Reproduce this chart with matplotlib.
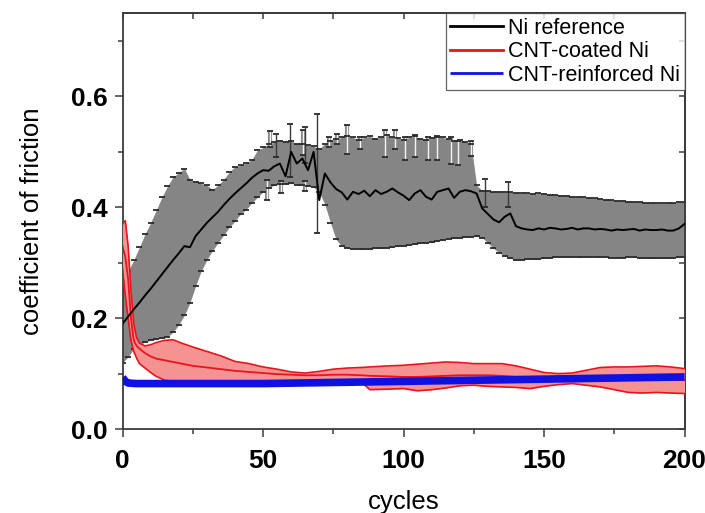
#!/usr/bin/env python3
"""Coefficient of friction vs. sliding cycles for Ni, CNT-coated Ni and CNT-reinforced Ni.

Run:
  python plot.py

Output:
  out.png
"""

from __future__ import annotations

import numpy as np
import matplotlib

matplotlib.use("Agg")
import matplotlib.pyplot as plt
from matplotlib.ticker import MultipleLocator


plt.rcParams["font.family"] = ["Liberation Sans", "DejaVu Sans"]

# ---- Ni reference: mean with error band, sampled every 2 cycles -------------
NI_CYCLES = np.arange(0, 201, 2)
NI_MEAN = [
    0.190, 0.203, 0.216, 0.228, 0.241, 0.253, 0.266, 0.279, 0.292, 0.305,
    0.317, 0.330, 0.328, 0.348, 0.360, 0.372, 0.382, 0.392, 0.404, 0.415,
    0.425, 0.434, 0.443, 0.453, 0.461, 0.467, 0.466, 0.474, 0.479, 0.456,
    0.500, 0.479, 0.488, 0.467, 0.500, 0.413, 0.461, 0.445, 0.433, 0.427,
    0.414, 0.428, 0.424, 0.430, 0.420, 0.431, 0.424, 0.428, 0.434, 0.427,
    0.421, 0.413, 0.425, 0.431, 0.419, 0.414, 0.428, 0.431, 0.434, 0.417,
    0.428, 0.431, 0.429, 0.425, 0.398, 0.388, 0.378, 0.373, 0.383, 0.389,
    0.366, 0.362, 0.360, 0.359, 0.362, 0.360, 0.363, 0.362, 0.360, 0.361,
    0.363, 0.360, 0.362, 0.362, 0.360, 0.361, 0.360, 0.358, 0.360, 0.359,
    0.360, 0.361, 0.358, 0.360, 0.359, 0.359, 0.360, 0.358, 0.358, 0.362,
    0.370,
]
NI_HI = [
    0.270, 0.285, 0.305, 0.328, 0.352, 0.372, 0.395, 0.418, 0.438, 0.455,
    0.462, 0.470, 0.450, 0.446, 0.443, 0.440, 0.432, 0.440, 0.450, 0.464,
    0.473, 0.476, 0.480, 0.486, 0.503, 0.508, 0.514, 0.518, 0.520, 0.518,
    0.520, 0.515, 0.515, 0.512, 0.510, 0.505, 0.515, 0.520, 0.524, 0.526,
    0.528, 0.526, 0.522, 0.526, 0.528, 0.524, 0.527, 0.530, 0.527, 0.525,
    0.522, 0.526, 0.528, 0.524, 0.522, 0.525, 0.528, 0.526, 0.523, 0.520,
    0.522, 0.518, 0.515, 0.440, 0.430, 0.430, 0.428, 0.428, 0.427, 0.428,
    0.426, 0.425, 0.426, 0.424, 0.425, 0.424, 0.423, 0.422, 0.421, 0.420,
    0.419, 0.418, 0.418, 0.417, 0.416, 0.415, 0.414, 0.413, 0.412, 0.411,
    0.410, 0.410, 0.409, 0.408, 0.408, 0.408, 0.407, 0.408, 0.408, 0.409,
    0.410,
]
NI_LO = [
    0.120, 0.130, 0.145, 0.152, 0.157, 0.160, 0.162, 0.164, 0.166, 0.175,
    0.188, 0.205, 0.228, 0.258, 0.285, 0.305, 0.322, 0.336, 0.350, 0.364,
    0.375, 0.388, 0.396, 0.408, 0.418, 0.428, 0.435, 0.440, 0.442, 0.442,
    0.443, 0.441, 0.440, 0.438, 0.436, 0.428, 0.405, 0.372, 0.342, 0.330,
    0.326, 0.325, 0.324, 0.324, 0.325, 0.326, 0.326, 0.327, 0.328, 0.330,
    0.331, 0.332, 0.333, 0.335, 0.336, 0.337, 0.339, 0.341, 0.343, 0.344,
    0.345, 0.346, 0.347, 0.348, 0.345, 0.336, 0.326, 0.318, 0.312, 0.308,
    0.305, 0.305, 0.306, 0.307, 0.307, 0.308, 0.309, 0.310, 0.310, 0.311,
    0.311, 0.310, 0.310, 0.311, 0.311, 0.310, 0.310, 0.309, 0.309, 0.309,
    0.310, 0.310, 0.309, 0.308, 0.308, 0.308, 0.308, 0.309, 0.309, 0.310,
    0.311,
]

# Individual Ni error bars that stand out of the band (dark) ...
NI_BAR_CYCLES = [54.5, 59.6, 64.8, 69.2, 129.0, 137.0]
NI_BAR_LO = [0.490, 0.455, 0.480, 0.353, 0.400, 0.400]
NI_BAR_HI = [0.533, 0.551, 0.545, 0.569, 0.452, 0.446]

# ... and the light ones drawn over the band
NI_WBAR_CYCLES = [51.3, 52.5, 56.5, 64.3, 65.0, 73.3, 76.3, 79.8, 84.5, 93.4,
                  97.0, 100.5, 104.0, 108.8, 111.8, 117.0, 119.4, 124.0]
NI_WBAR_LO = [0.413, 0.508, 0.425, 0.495, 0.430, 0.509, 0.515, 0.497, 0.505, 0.491,
              0.505, 0.485, 0.490, 0.485, 0.485, 0.479, 0.476, 0.492]
NI_WBAR_HI = [0.449, 0.537, 0.447, 0.539, 0.447, 0.527, 0.533, 0.548, 0.527, 0.539,
              0.539, 0.527, 0.530, 0.527, 0.527, 0.527, 0.520, 0.520]

# ---- CNT-coated Ni ------------------------------------------------------------
COATED_CYCLES = [0, 1, 2, 3, 4, 5, 6, 8, 10, 12, 15, 18, 21, 25, 30, 35, 40, 45,
                 50, 55, 60, 65, 70, 75, 80, 85, 88, 95, 100, 105, 110, 115, 120,
                 125, 130, 135, 140, 145, 150, 155, 160, 165, 170, 175, 180, 185,
                 190, 195, 200]
COATED_MEAN = [0.330, 0.310, 0.270, 0.200, 0.160, 0.150, 0.145, 0.137, 0.131, 0.127,
               0.124, 0.121, 0.118, 0.114, 0.111, 0.108, 0.105, 0.103, 0.101, 0.099,
               0.098, 0.097, 0.097, 0.098, 0.098, 0.097, 0.096, 0.095, 0.094, 0.094,
               0.095, 0.096, 0.097, 0.097, 0.097, 0.096, 0.094, 0.092, 0.090, 0.089,
               0.090, 0.092, 0.093, 0.092, 0.091, 0.090, 0.090, 0.089, 0.088]
COATED_HI = [0.370, 0.376, 0.330, 0.250, 0.190, 0.165, 0.155, 0.150, 0.152, 0.156,
             0.160, 0.161, 0.155, 0.148, 0.140, 0.132, 0.122, 0.118, 0.112, 0.108,
             0.103, 0.101, 0.104, 0.108, 0.110, 0.111, 0.112, 0.114, 0.115, 0.117,
             0.119, 0.121, 0.120, 0.118, 0.118, 0.118, 0.114, 0.108, 0.102, 0.100,
             0.101, 0.106, 0.111, 0.112, 0.112, 0.113, 0.114, 0.112, 0.109]
COATED_LO = [0.290, 0.240, 0.200, 0.160, 0.140, 0.128, 0.118, 0.110, 0.102, 0.095,
             0.088, 0.086, 0.085, 0.084, 0.084, 0.084, 0.084, 0.084, 0.084, 0.084,
             0.084, 0.084, 0.085, 0.085, 0.085, 0.085, 0.071, 0.072, 0.073, 0.069,
             0.071, 0.074, 0.078, 0.079, 0.077, 0.076, 0.075, 0.073, 0.077, 0.080,
             0.082, 0.079, 0.076, 0.071, 0.066, 0.065, 0.066, 0.065, 0.064]

# ---- CNT-reinforced Ni --------------------------------------------------------
REINF_CYCLES = [0, 1, 2, 5, 25, 50, 75, 100, 125, 150, 175, 200]
REINF_MEAN = [0.093, 0.086, 0.083, 0.082, 0.082, 0.082, 0.084, 0.086, 0.088, 0.090,
              0.092, 0.094]

LABELS = ["Ni reference", "CNT-coated Ni", "CNT-reinforced Ni"]

X_TICKS = [0, 50, 100, 150, 200]
Y_TICKS = [0.0, 0.2, 0.4, 0.6]

BAND_GRAY = "#858585"
CAP_DARK = "#2a2a2a"
RED = "#e8141c"
RED_FILL = "#f59393"
BLUE = "#1010e0"
AXIS_COLOR = "#3c3c3c"


def draw_caps(ax, x, y, color=CAP_DARK, size=3.8, z=2.3) -> None:
    """Short horizontal ticks at the ends of error bars."""
    ax.plot(x, y, linestyle="none", marker="_", markersize=size,
            markeredgewidth=1.3, color=color, zorder=z)


def draw_ni(ax) -> None:
    ax.fill_between(NI_CYCLES, NI_LO, NI_HI, color=BAND_GRAY, linewidth=0, zorder=1)
    draw_caps(ax, NI_CYCLES, NI_HI)
    draw_caps(ax, NI_CYCLES, NI_LO)

    # light bars: gray outline with a white core
    ax.vlines(NI_WBAR_CYCLES, NI_WBAR_LO, NI_WBAR_HI, color=BAND_GRAY, linewidth=3.0, zorder=2)
    ax.vlines(NI_WBAR_CYCLES, NI_WBAR_LO, NI_WBAR_HI, color="#f4f4f4", linewidth=1.0, zorder=2.1)
    draw_caps(ax, NI_WBAR_CYCLES, NI_WBAR_HI)
    draw_caps(ax, NI_WBAR_CYCLES, NI_WBAR_LO)

    ax.vlines(NI_BAR_CYCLES, NI_BAR_LO, NI_BAR_HI, color="#3a3a3a", linewidth=1.0, zorder=2.2)
    draw_caps(ax, NI_BAR_CYCLES, NI_BAR_HI, size=4.6)
    draw_caps(ax, NI_BAR_CYCLES, NI_BAR_LO, size=4.6)

    ax.plot(NI_CYCLES, NI_MEAN, color="black", linewidth=1.4, zorder=5, label=LABELS[0])


def draw_coated(ax) -> None:
    ax.fill_between(COATED_CYCLES, COATED_LO, COATED_HI, color=RED_FILL, linewidth=0, zorder=3)
    ax.plot(COATED_CYCLES, COATED_HI, color=RED, linewidth=1.2, zorder=3.2)
    ax.plot(COATED_CYCLES, COATED_LO, color=RED, linewidth=1.2, zorder=3.2)
    ax.plot(COATED_CYCLES, COATED_MEAN, color=RED, linewidth=1.3, zorder=3.4, label=LABELS[1])


def draw_reinforced(ax) -> None:
    ax.plot(REINF_CYCLES, REINF_MEAN, color=BLUE, linewidth=5.5, zorder=4,
            solid_capstyle="butt", label=LABELS[2])


def style_axes(ax) -> None:
    ax.set_xlim(0, 200)
    ax.set_ylim(0, 0.75)
    ax.set_xticks(X_TICKS, [f"{v:d}" for v in X_TICKS], fontweight="bold")
    ax.set_yticks(Y_TICKS, [f"{v:.1f}" for v in Y_TICKS], fontweight="bold")
    ax.xaxis.set_minor_locator(MultipleLocator(25))
    ax.yaxis.set_minor_locator(MultipleLocator(0.1))

    for spine in ax.spines.values():
        spine.set_color(AXIS_COLOR)
        spine.set_linewidth(1.3)

    ax.tick_params(which="both", direction="out", color=AXIS_COLOR, width=1.1,
                   top=False, right=False)
    ax.tick_params(which="major", length=6, pad=5, labelsize=19)
    ax.tick_params(axis="x", which="major", pad=8.5)
    ax.tick_params(which="minor", length=3.5)

    # Inward ticks on the top and right frame, no labels
    top = ax.secondary_xaxis("top")
    top.xaxis.set_major_locator(MultipleLocator(25))
    top.tick_params(direction="in", length=4, width=1.1, color=AXIS_COLOR, labeltop=False)
    top.spines["top"].set_color(AXIS_COLOR)
    top.spines["top"].set_linewidth(1.3)
    right = ax.secondary_yaxis("right")
    right.yaxis.set_major_locator(MultipleLocator(0.1))
    right.tick_params(direction="in", length=4, width=1.1, color=AXIS_COLOR, labelright=False)
    right.spines["right"].set_color(AXIS_COLOR)
    right.spines["right"].set_linewidth(1.3)

    ax.set_xlabel("cycles", fontsize=18.5, labelpad=12)
    ax.set_ylabel("coefficient of friction", fontsize=18.5, labelpad=19)

    leg = ax.legend(
        loc="upper right", bbox_to_anchor=(1.0, 1.0), borderaxespad=0.0,
        fontsize=15.5, frameon=True, fancybox=False, edgecolor=AXIS_COLOR,
        handlelength=2.45, handletextpad=0.25, labelspacing=0.12, borderpad=0.2,
    )
    leg.get_frame().set_linewidth(0.9)
    for h in leg.get_lines():
        h.set_linewidth(2.0)


def main() -> None:
    fig = plt.figure(figsize=(7.05, 5.13), dpi=100)
    ax = fig.add_axes([0.1738, 0.1637, 0.7972, 0.8103])

    draw_ni(ax)
    draw_coated(ax)
    draw_reinforced(ax)
    style_axes(ax)

    fig.savefig("out.png", dpi=100)
    plt.close(fig)


if __name__ == "__main__":
    main()
